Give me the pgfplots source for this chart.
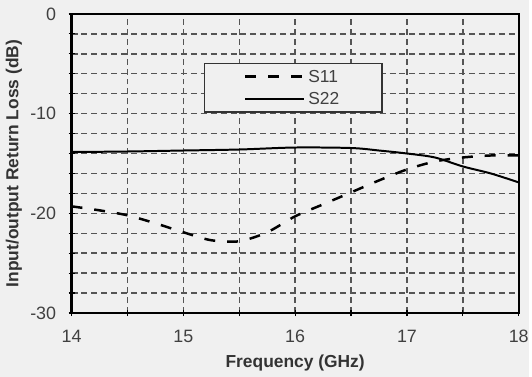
\documentclass[border=0pt]{standalone}
\usepackage{pgfplots}
\pgfplotsset{compat=1.18}
\usepackage{fontspec}
\setmainfont{Liberation Sans}
\usetikzlibrary{backgrounds,calc}
\definecolor{bggray}{HTML}{F0F0F0}
\definecolor{gridgray}{HTML}{555555}
\begin{document}
\begin{tikzpicture}
\begin{axis}[
  name=ax,
  scale only axis,
  width=450pt, height=301pt,
  xmin=14, xmax=18, ymin=-30, ymax=0,
  xtick={14,15,16,17,18},
  xticklabels={14,15,16,17,18},
  ytick={-30,-20,-10,0},
  yticklabels={-30,-20,-10,0},
  minor xtick={14.5,15.5,16.5,17.5},
  minor ytick={-28,-26,-24,-22,-18,-16,-14,-12,-8,-6,-4,-2},
  grid=both,
  major grid style={gridgray, line width=1.5pt, dash pattern=on 6pt off 4pt},
  minor grid style={gridgray, line width=1.5pt, dash pattern=on 6pt off 4pt},
  axis line style={black, line width=2.5pt},
  tick style={black, line width=1.2pt},
  major tick length=6pt, minor tick length=6pt,
  tick align=center,
  xtick pos=bottom, ytick pos=left,
  ticklabel style={font=\fontsize{18}{21}\selectfont, text=black!75},
  xticklabel style={yshift=-11pt},
  yticklabel style={xshift=-9pt},
  xlabel={\textbf{Frequency (GHz)}},
  ylabel={\textbf{Input/output Return Loss (dB)}},
  label style={font=\fontsize{17.5}{21}\selectfont, text=black!80},
  xlabel style={at={(axis description cs:0.5,-0.183)}, anchor=base},
  ylabel style={at={(axis description cs:-0.129,0.5)}, anchor=center},
  axis background/.style={fill=bggray},
  legend cell align=left,
  legend style={
    at={(0.2956,0.837)}, anchor=north west,
    draw=black!80, line width=1.5pt, fill=bggray,
    font=\fontsize{17.5}{21}\selectfont,
    inner xsep=40pt, inner ysep=3.5pt, row sep=2.5pt,
    nodes={inner sep=3pt, text=black!75},
  },
  legend image code/.code={\draw[#1] (0pt,0pt) -- (59pt,0pt);},
]
\addplot[black, line width=2.5pt, dash pattern=on 11pt off 12pt, smooth] coordinates {
(14,-19.3) (14.25,-19.7) (14.5,-20.2) (14.75,-21.0) (15,-21.9) (15.25,-22.7)
(15.5,-22.8) (15.75,-21.9) (16,-20.3) (16.25,-19.1) (16.5,-17.9) (16.75,-16.7)
(17,-15.6) (17.25,-14.8) (17.5,-14.4) (17.75,-14.2) (18,-14.2)
};
\addlegendentry{S11}
\addplot[black, line width=2pt, smooth] coordinates {
(14,-13.85) (14.5,-13.8) (15,-13.7) (15.5,-13.6) (16,-13.4) (16.5,-13.45)
(16.75,-13.7) (17,-14.0) (17.25,-14.4) (17.5,-15.3) (17.75,-16.0) (18,-16.9)
};
\addlegendentry{S22}
\end{axis}
\begin{scope}[on background layer]
\fill[bggray] ($(ax.south west)+(-72pt,-64pt)$) rectangle ($(ax.north east)+(10pt,14pt)$);
\end{scope}
\end{tikzpicture}
\end{document}
